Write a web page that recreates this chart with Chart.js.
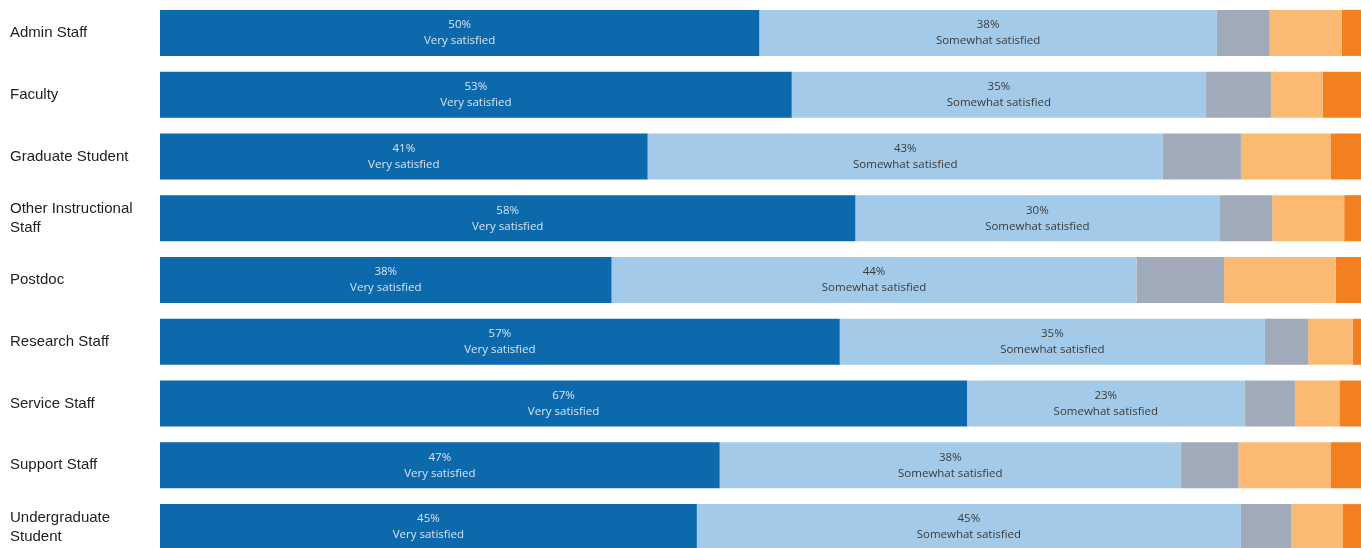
<!DOCTYPE html>
<html>
<head>
<meta charset="utf-8">
<script src="https://cdn.jsdelivr.net/npm/chart.js@4.4.1/dist/chart.umd.min.js"></script>
<style>
    html, body { margin: 0; padding: 0; background: #ffffff; overflow: hidden; }
    #wrap { position: relative; width: 1361px; height: 560px; }
</style>
</head>
<body>
<div id="wrap"><canvas id="chart"></canvas></div>
<script>
// Categories (multi-line labels as arrays)
const groups = [
    'Admin Staff',
    'Faculty',
    'Graduate Student',
    ['Other Instructional', 'Staff'],
    'Postdoc',
    'Research Staff',
    'Service Staff',
    'Support Staff',
    ['Undergraduate', 'Student']
];

const seriesNames = [
    'Very satisfied',
    'Somewhat satisfied',
    'Neither satisfied nor dissatisfied',
    'Somewhat dissatisfied',
    'Very dissatisfied'
];

// Share of respondents (%)
const verySatisfied     = [49.9, 52.6, 40.6, 57.9, 37.6, 56.6, 67.2, 46.6, 44.7];
const somewhatSatisfied = [38.1, 34.5, 42.9, 30.3, 43.7, 35.4, 23.1, 38.4, 45.3];
const neutral           = [4.4, 5.4, 6.5, 4.4, 7.3, 3.6, 4.2, 4.8, 4.2];
const somewhatDissat    = [6.0, 4.3, 7.5, 6.0, 9.3, 3.7, 3.7, 7.7, 4.3];
const veryDissat        = [1.6, 3.2, 2.5, 1.4, 2.1, 0.7, 1.8, 2.5, 1.5];

const colors = ['#0c69ac', '#a3cbe9', '#a1aab8', '#fbb971', '#f27f20'];

// Draws "NN%" + series name inside the first two segments
const segmentLabels = {
    id: 'segmentLabels',
    afterDatasetsDraw(chart) {
        const c = chart.ctx;
        c.save();
        c.textAlign = 'center';
        c.textBaseline = 'middle';
        c.font = '11.5px "Open Sans", sans-serif';
        [0, 1].forEach(di => {
            const meta = chart.getDatasetMeta(di);
            const ds = chart.data.datasets[di];
            c.fillStyle = di === 0 ? '#d7e3f1' : '#3b3b3b';
            meta.data.forEach((bar, i) => {
                const cx = (bar.x + bar.base) / 2;
                c.fillText(Math.round(ds.data[i]) + '%', cx, bar.y - 8);
                c.fillText(ds.label, cx, bar.y + 8);
            });
        });
        c.restore();
    }
};

const values = [verySatisfied, somewhatSatisfied, neutral, somewhatDissat, veryDissat];

new Chart(document.getElementById('chart'), {
    type: 'bar',
    data: {
        labels: groups,
        datasets: values.map((v, i) => ({
            label: seriesNames[i],
            data: v,
            backgroundColor: colors[i],
            borderWidth: 0,
            barPercentage: 0.745,
            categoryPercentage: 1
        }))
    },
    options: {
        indexAxis: 'y',
        responsive: true,
        maintainAspectRatio: false,
        animation: false,
        layout: { padding: { top: 2, right: 0, bottom: 2, left: 10 } },
        scales: {
            x: {
                stacked: true,
                min: 0,
                max: 100,
                display: false
            },
            y: {
                stacked: true,
                grid: { display: false },
                border: { display: false },
                ticks: {
                    crossAlign: 'far',
                    padding: 0,
                    color: '#222222',
                    font: { family: '"Liberation Sans", Arial, sans-serif', size: 15, lineHeight: 1.27 }
                },
                afterFit(scale) {
                    scale.width = 150;
                    scale.paddingTop = 0;
                    scale.paddingBottom = 0;
                }
            }
        },
        plugins: {
            legend: { display: false },
            tooltip: { enabled: false }
        }
    },
    plugins: [segmentLabels]
});
</script>
</body>
</html>
